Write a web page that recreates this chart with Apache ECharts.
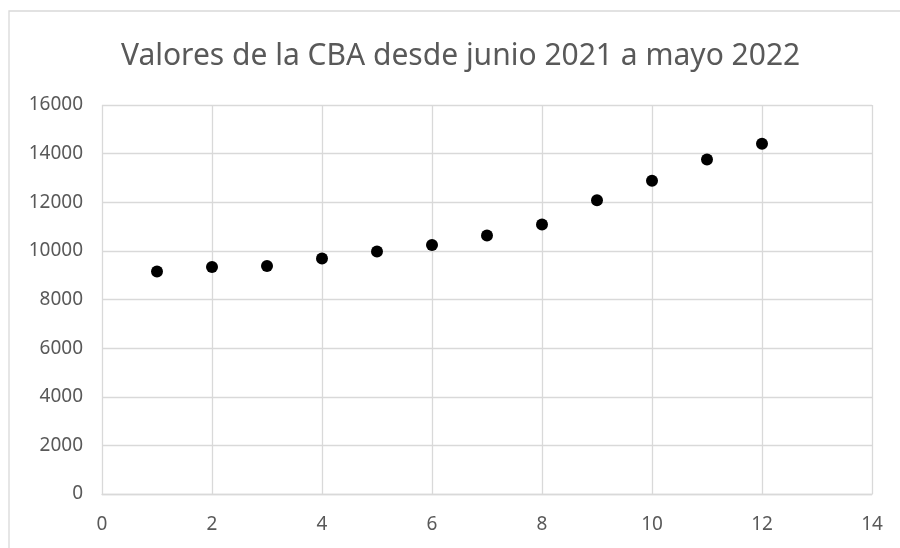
<!DOCTYPE html>
<html>
<head>
<meta charset="utf-8">
<script src="https://cdn.jsdelivr.net/npm/echarts@6/dist/echarts.min.js"></script>
<style>
  html, body { margin: 0; padding: 0; background: #ffffff; }
  #chart { width: 900px; height: 548px; }
</style>
</head>
<body>
<div id="chart"></div>
<script>
// Monthly index (1 = junio 2021 ... 12 = mayo 2022) and CBA value
var months = [1, 2, 3, 4, 5, 6, 7, 8, 9, 10, 11, 12];
var cbaValues = [9150, 9340, 9380, 9690, 9975, 10240, 10630, 11080, 12080, 12880, 13760, 14410];

var titleText = 'Valores de la CBA desde junio 2021 a mayo 2022';
var xAxisRange = { min: 0, max: 14, interval: 2 };
var yAxisRange = { min: 0, max: 16000, interval: 2000 };

var points = months.map(function (m, i) { return [m, cbaValues[i]]; });

var labelFont = '"Noto Sans", sans-serif';
var gridColor = '#d9d9d9';
var textColor = '#595959';

var chart = echarts.init(document.getElementById('chart'), null, { renderer: 'canvas' });
chart.setOption({
  animation: false,
  backgroundColor: '#ffffff',
  graphic: [{
    type: 'rect',
    shape: { x: 9, y: 11, width: 900, height: 560 },
    style: { fill: 'none', stroke: '#d9d9d9', lineWidth: 1.3 },
    silent: true
  }],
  title: {
    text: titleText,
    left: 116,
    top: 36,
    textStyle: {
      fontFamily: labelFont,
      fontSize: 30,
      fontWeight: 'normal',
      color: textColor
    }
  },
  grid: { left: 102, right: 28, top: 105, bottom: 54 },
  xAxis: {
    type: 'value',
    min: xAxisRange.min,
    max: xAxisRange.max,
    interval: xAxisRange.interval,
    axisLine: { show: true, lineStyle: { color: gridColor, width: 1.3 } },
    axisTick: { show: false },
    axisLabel: { color: textColor, fontSize: 19, fontFamily: labelFont, margin: 21,
                 formatter: function (v) { return String(v); } },
    splitLine: { show: true, lineStyle: { color: gridColor, width: 1.3 } }
  },
  yAxis: {
    type: 'value',
    min: yAxisRange.min,
    max: yAxisRange.max,
    interval: yAxisRange.interval,
    axisLine: { show: false },
    axisTick: { show: false },
    axisLabel: { color: textColor, fontSize: 19, fontFamily: labelFont, margin: 19,
                 formatter: function (v) { return String(v); } },
    splitLine: { show: true, lineStyle: { color: gridColor, width: 1.3 } }
  },
  series: [{
    type: 'scatter',
    data: points,
    symbol: 'circle',
    symbolSize: 12,
    itemStyle: { color: '#000000', opacity: 1 }
  }]
});
</script>
</body>
</html>
